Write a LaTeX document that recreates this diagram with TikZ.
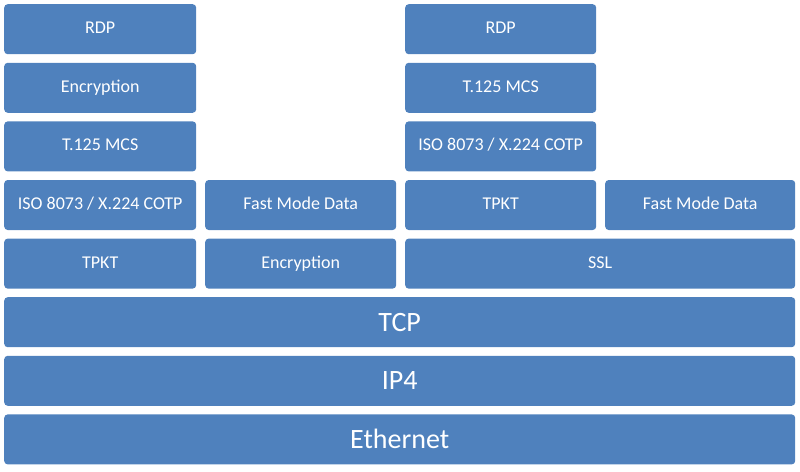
\documentclass[tikz,border=0pt]{standalone}
\usepackage{fontspec}
\setmainfont{Carlito}
\definecolor{boxblue}{HTML}{4F81BD}
\tikzset{
  layer/.style={fill=boxblue, draw=none, rounded corners=3.5pt, text=white, inner sep=0pt},
  small/.style={layer, font=\fontsize{18}{21}\selectfont, text height=12pt, text depth=3pt},
  big/.style={layer, font=\fontsize{28}{33}\selectfont, text height=21pt, text depth=3pt}
}
\begin{document}
\begin{tikzpicture}[x=1pt,y=-1pt]
\useasboundingbox (0,0) rectangle (800,471);
\def\mk#1#2#3#4#5#6#7{%
  \node[#2, minimum width=#5-#3, minimum height=#6-#4, anchor=north west] (#1) at (#3,#4) {#7};}
% left stack
\mk{rdpA}{small}{4}{4}{196}{54}{RDP}
\mk{encA}{small}{4}{62.6}{196}{112.6}{Encryption}
\mk{mcsA}{small}{4}{121.2}{196}{171.2}{T.125 MCS}
\mk{isoA}{small}{4}{179.8}{196}{229.8}{ISO 8073 / X.224 COTP}
\mk{tpktA}{small}{4}{238.4}{196}{288.4}{TPKT}
\mk{fmdA}{small}{205}{179.8}{396}{229.8}{Fast Mode Data}
\mk{encB}{small}{205}{238.4}{396}{288.4}{Encryption}
% right stack
\mk{rdpB}{small}{405}{4}{596}{54}{RDP}
\mk{mcsB}{small}{405}{62.6}{596}{112.6}{T.125 MCS}
\mk{isoB}{small}{405}{121.2}{596}{171.2}{ISO 8073 / X.224 COTP}
\mk{tpktB}{small}{405}{179.8}{596}{229.8}{TPKT}
\mk{fmdB}{small}{605}{179.8}{795}{229.8}{Fast Mode Data}
\mk{ssl}{small}{405}{238.4}{795}{288.4}{SSL}
% bottom layers
\mk{tcp}{big}{4}{297}{795}{347}{TCP}
\mk{ip}{big}{4}{355.6}{795}{405.6}{IP4}
\mk{eth}{big}{4}{414.2}{795}{464.2}{Ethernet}
\end{tikzpicture}
\end{document}
